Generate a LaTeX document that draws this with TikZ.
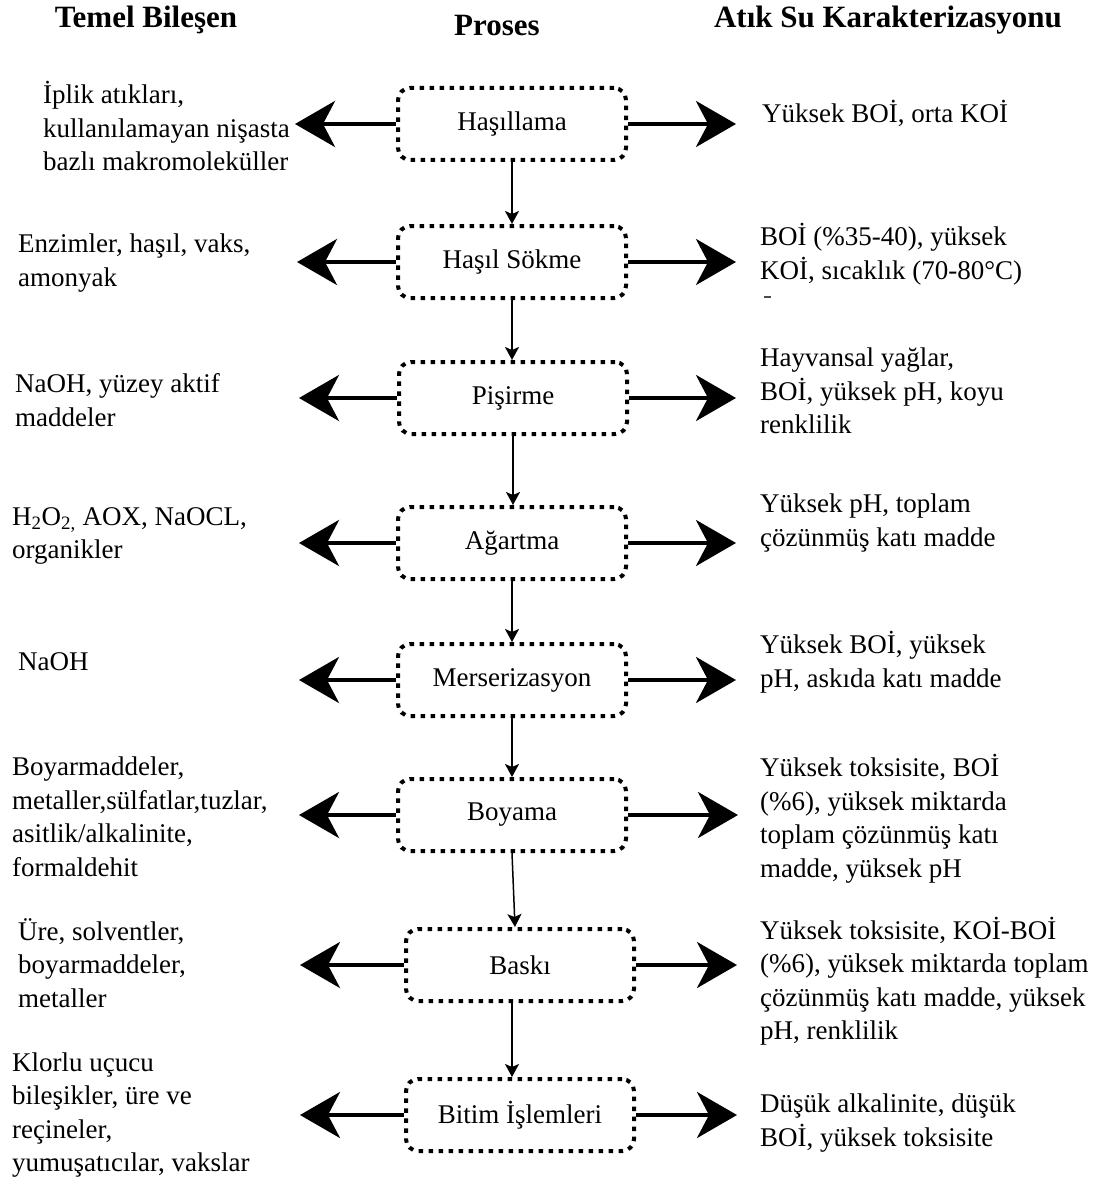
\documentclass[tikz,border=0pt]{standalone}
\usepackage{fontspec}
\setmainfont{Liberation Serif}
\usetikzlibrary{arrows.meta}
\begin{document}
\begin{tikzpicture}[x=1pt,y=-1pt,
  stagebox/.style={draw, line width=4pt, dash pattern=on 4.5pt off 5.5pt,
    rounded corners=12pt, minimum width=228pt, minimum height=72pt,
    inner sep=0pt, font=\fontsize{27}{33}\selectfont},
  txt/.style={inner sep=0pt, align=left, anchor=west,
    font=\fontsize{27}{33.5}\selectfont},
  head/.style={inner sep=0pt, font=\fontsize{31}{36}\selectfont\bfseries},
  bigarrow/.style={line width=4pt, -{Stealth[length=40pt,width=46pt,inset=12pt]}},
  flow/.style={line width=1.5pt, -{Stealth[length=13pt,width=14pt,inset=3pt]}}]

\useasboundingbox (0,0) rectangle (1113,1185);

% column headings
\node[head] (h1) at (146,20) {Temel Bileşen};
\node[head] (h2) at (497,26) {Proses};
\node[head] (h3) at (888,20) {Atık Su Karakterizasyonu};

% process stages
\node[stagebox] (b1) at (512,124)  {Haşıllama};
\node[stagebox] (b2) at (512,262)  {Haşıl Sökme};
\node[stagebox] (b3) at (513,398)  {Pişirme};
\node[stagebox] (b4) at (512,543)  {Ağartma};
\node[stagebox] (b5) at (512,680)  {Merserizasyon};
\node[stagebox] (b6) at (512,815)  {Boyama};
\node[stagebox] (b7) at (520,965)  {Baskı};
\node[stagebox] (b8) at (520,1115) {Bitim İşlemleri};

% arrow tips on both sides
\coordinate (l1) at (295,124);  \coordinate (r1) at (736,124);
\coordinate (l2) at (297,262);  \coordinate (r2) at (736,262);
\coordinate (l3) at (299,398);  \coordinate (r3) at (736,398);
\coordinate (l4) at (299,543);  \coordinate (r4) at (736,543);
\coordinate (l5) at (299,680);  \coordinate (r5) at (736,680);
\coordinate (l6) at (299,815);  \coordinate (r6) at (738,815);
\coordinate (l7) at (300,965);  \coordinate (r7) at (737,965);
\coordinate (l8) at (300,1115); \coordinate (r8) at (737,1115);

\foreach \i in {1,...,8}{
  \draw[bigarrow] (b\i.west) -- (l\i);
  \draw[bigarrow] (b\i.east) -- (r\i);
}

% flow between stages
\draw[flow] (b1.south) -- (b1.south |- b2.north);
\draw[flow] (b2.south) -- (b2.south |- b3.north);
\draw[flow] (b3.south) -- (b3.south |- b4.north);
\draw[flow] (b4.south) -- (b4.south |- b5.north);
\draw[flow] (b5.south) -- (b5.south |- b6.north);
\draw[flow] (b6.south) -- ([xshift=-5pt]b7.north);
\draw[flow] ([xshift=-8pt]b7.south) -- ([xshift=-8pt]b8.north);

% basic components
\node[txt] (c1) at (43,126)  {İplik atıkları,\\kullanılamayan nişasta\\bazlı makromoleküller};
\node[txt] (c2) at (18,263)  {Enzimler, haşıl, vaks,\\amonyak};
\node[txt] (c3) at (15,400)  {NaOH, yüzey aktif\\maddeler};
\node[txt] (c4) at (12,536)  {H\textsubscript{2}O\textsubscript{2,} AOX, NaOCL,\\organikler};
\node[txt] (c5) at (18,662)  {NaOH};
\node[txt] (c6) at (12,817)  {Boyarmaddeler,\\metaller,sülfatlar,tuzlar,\\asitlik/alkalinite,\\formaldehit};
\node[txt] (c7) at (18,963)  {Üre, solventler,\\boyarmaddeler,\\metaller};
\node[txt] (c8) at (12,1115) {Klorlu uçucu\\bileşikler, üre ve\\reçineler,\\yumuşatıcılar, vakslar};

% wastewater characteristics
\node[txt] (w1) at (762,113)  {Yüksek BOİ, orta KOİ};
\node[txt] (w2) at (760,254)  {BOİ (\%35-40), yüksek\\KOİ, sıcaklık (70-80°C)};
\node[txt] (w3) at (760,391)  {Hayvansal yağlar,\\BOİ, yüksek pH, koyu\\renklilik};
\node[txt] (w4) at (760,523)  {Yüksek pH, toplam\\çözünmüş katı madde};
\node[txt] (w5) at (760,662)  {Yüksek BOİ, yüksek\\pH, askıda katı madde};
\node[txt] (w6) at (760,819)  {Yüksek toksisite, BOİ\\(\%6), yüksek miktarda\\toplam çözünmüş katı\\madde, yüksek pH};
\node[txt] (w7) at (760,981)  {Yüksek toksisite, KOİ-BOİ\\(\%6), yüksek miktarda toplam\\çözünmüş katı madde, yüksek\\pH, renklilik};
\node[txt] (w8) at (760,1123) {Düşük alkalinite,  düşük\\BOİ, yüksek toksisite};

% small stray mark below the second description
\draw[line width=1.2pt, black!70] (764,297) -- (771,297);
\end{tikzpicture}
\end{document}
